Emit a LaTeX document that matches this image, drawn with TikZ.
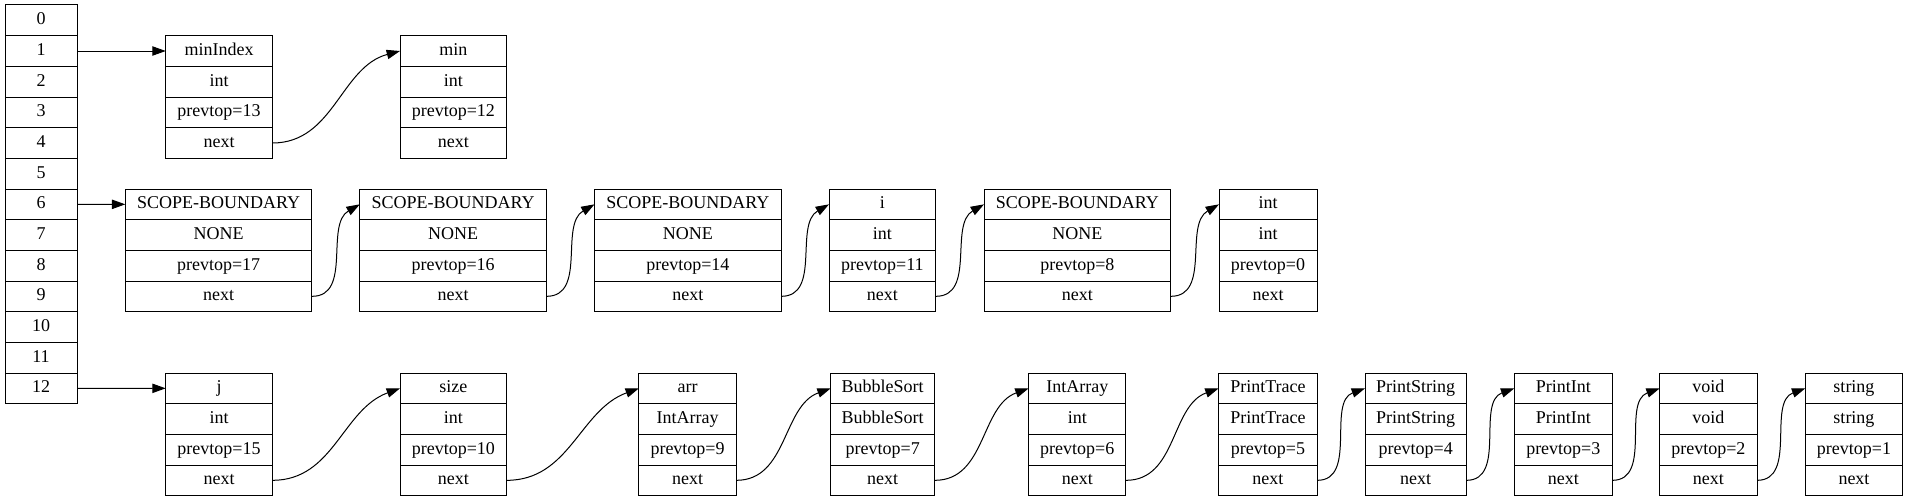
\documentclass[tikz,border=0pt]{standalone}
\usepackage{fontspec}
\setmainfont{Liberation Serif}
\usetikzlibrary{arrows.meta, positioning}

\tikzset{
  field/.style={draw, line width=0.75pt, minimum height=23pt, inner sep=0pt, outer sep=0pt,
    text height=9.5pt, text depth=3pt, font=\fontsize{13.5}{16}\selectfont},
  link/.style={-{Triangle[length=10pt,width=7pt]}, line width=0.75pt},
}

% one symbol record: name, left x, top y, width, four fields
\newcommand{\record}[8]{%
  \node[field, minimum width=#4, anchor=north west] (#1-name) at (#2,#3) {#5};
  \node[field, minimum width=#4, below=0pt of #1-name] (#1-type) {#6};
  \node[field, minimum width=#4, below=0pt of #1-type] (#1-top) {#7};
  \node[field, minimum width=#4, below=0pt of #1-top] (#1-next) {#8};
}

\begin{document}
\begin{tikzpicture}[x=0.75pt, y=-0.75pt]
    \useasboundingbox (0,0) rectangle (1908,503);

    % hash table slots
    \foreach \i in {0,...,12}
        \node[field, minimum width=54pt, anchor=north west] (slot-\i) at (5,{5+30.67*\i}) {\i};

    % chain from slot 1
    \record{minIndex}{165.7}{35.67}{80pt}{minIndex}{int}{prevtop=13}{next}
    \record{min}{400}{35.67}{80pt}{min}{int}{prevtop=12}{next}

    % chain from slot 6
    \record{sbA}{125.3}{189}{140pt}{SCOPE-BOUNDARY}{NONE}{prevtop=17}{next}
    \record{sbB}{359.8}{189}{140pt}{SCOPE-BOUNDARY}{NONE}{prevtop=16}{next}
    \record{sbC}{594.5}{189}{140pt}{SCOPE-BOUNDARY}{NONE}{prevtop=14}{next}
    \record{i}{829}{189}{80pt}{i}{int}{prevtop=11}{next}
    \record{sbD}{984}{189}{140pt}{SCOPE-BOUNDARY}{NONE}{prevtop=8}{next}
    \record{int}{1219}{189}{73.5pt}{int}{int}{prevtop=0}{next}

    % chain from slot 12
    \record{j}{165.7}{373}{80pt}{j}{int}{prevtop=15}{next}
    \record{size}{400}{373}{80pt}{size}{int}{prevtop=10}{next}
    \record{arr}{638.9}{373}{73pt}{arr}{IntArray}{prevtop=9}{next}
    \record{bubble}{830.7}{373}{78pt}{BubbleSort}{BubbleSort}{prevtop=7}{next}
    \record{intarray}{1028.6}{373}{73pt}{IntArray}{int}{prevtop=6}{next}
    \record{ptrace}{1218.6}{373}{74pt}{PrintTrace}{PrintTrace}{prevtop=5}{next}
    \record{pstring}{1365}{373}{76pt}{PrintString}{PrintString}{prevtop=4}{next}
    \record{pint}{1514.3}{373}{73.5pt}{PrintInt}{PrintInt}{prevtop=3}{next}
    \record{void}{1659.7}{373}{73pt}{void}{void}{prevtop=2}{next}
    \record{string}{1805.3}{373}{73pt}{string}{string}{prevtop=1}{next}

    % slot pointers
    \draw[link] (slot-1.east) -- (minIndex-name.west);
    \draw[link] (slot-6.east) -- (sbA-name.west);
    \draw[link] (slot-12.east) -- (j-name.west);

    % next pointers
    \draw[link] (minIndex-next.east) to[out=0, in=195] (min-name.west);

    \foreach \a/\b in {sbA/sbB, sbB/sbC, sbC/i, i/sbD, sbD/int}
        \draw[link] (\a-next.east) to[out=0, in=210] (\b-name.west);

    \foreach \a/\b in {j/size, size/arr, arr/bubble, bubble/intarray, intarray/ptrace,
                       ptrace/pstring, pstring/pint, pint/void, void/string}
        \draw[link] (\a-next.east) to[out=0, in=200] (\b-name.west);
\end{tikzpicture}
\end{document}
